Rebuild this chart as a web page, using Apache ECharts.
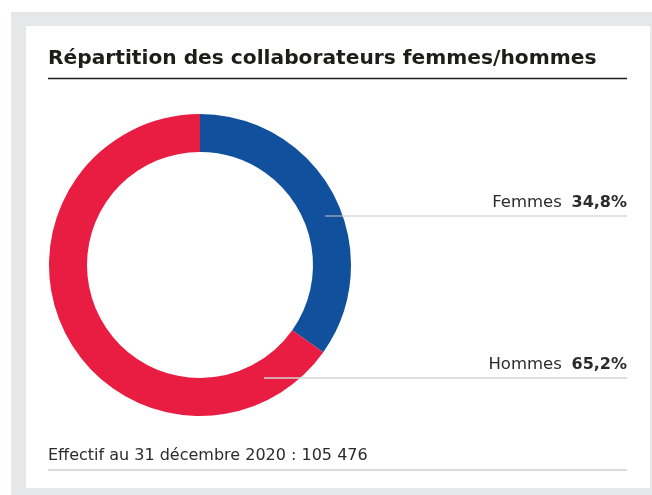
<!DOCTYPE html>
<html>
<head>
<meta charset="utf-8">
<script src="https://cdn.jsdelivr.net/npm/echarts@6/dist/echarts.min.js"></script>
<style>
  html, body { margin: 0; padding: 0; background: #ffffff; }
  #chart { width: 652px; height: 495px; }
</style>
</head>
<body>
<div id="chart"></div>
<script>
// ---- Data ----
var categories = ['Femmes', 'Hommes'];
var values = [34.8, 65.2];
var valueLabels = ['34,8%', '65,2%'];
var colors = ['#10509c', '#e81d41'];
var titleText = 'Répartition des collaborateurs femmes/hommes';
var footerText = 'Effectif au 31 décembre 2020 : 105 476';

// ---- Layout constants ----
var CX = 200, CY = 265, R_IN = 113, R_OUT = 151;
var LABEL_RIGHT = 627;
var leaderStartX = [325, 264];
var leaderY = [216, 378];

var FONT = '"DejaVu Sans", sans-serif';

var chart = echarts.init(document.getElementById('chart'), null, { renderer: 'canvas' });

var ringData = categories.map(function (c, i) {
  return { name: c, value: values[i], itemStyle: { color: colors[i] } };
});

var labelData = categories.map(function (c, i) {
  return {
    name: c,
    value: values[i],
    itemStyle: { color: 'rgba(0,0,0,0)' },
    labelLine: { lineStyle: { color: i === 0 ? '#c4c4c4' : '#d4d4d4', width: i === 0 ? 1 : 1.5 } }
  };
});

var option = {
  animation: false,
  backgroundColor: '#ffffff',
  graphic: [
    { type: 'rect', z: -10, shape: { x: 11, y: 12, width: 641, height: 483 }, style: { fill: '#e6e7e8' }, silent: true },
    { type: 'rect', z: -9, shape: { x: 26, y: 26, width: 624, height: 462 }, style: { fill: '#ffffff' }, silent: true },
    { type: 'line', z: 5, shape: { x1: 48, y1: 78.5, x2: 627, y2: 78.5 }, style: { stroke: '#1e1e1e', lineWidth: 1.3 }, silent: true },
    { type: 'line', z: 5, shape: { x1: 48, y1: 470, x2: 627, y2: 470 }, style: { stroke: '#cfcfcf', lineWidth: 1.5 }, silent: true }
  ],
  title: [
    {
      text: titleText,
      left: 48,
      top: 49,
      padding: 0,
      textStyle: { fontFamily: FONT, fontWeight: 'bold', fontSize: 20.2, color: '#1d1d1b' }
    },
    {
      text: footerText,
      left: 48,
      top: 448,
      padding: 0,
      textStyle: { fontFamily: FONT, fontWeight: 'normal', fontSize: 16, color: '#2b2b2b' }
    }
  ],
  series: [
    {
      type: 'pie',
      z: 2,
      center: [CX, CY],
      radius: [R_IN, R_OUT],
      startAngle: 90,
      clockwise: true,
      silent: true,
      label: { show: false },
      labelLine: { show: false },
      itemStyle: { borderWidth: 0 },
      data: ringData
    },
    {
      type: 'pie',
      z: 4,
      center: [CX, CY],
      radius: [R_IN, R_OUT],
      startAngle: 90,
      clockwise: true,
      avoidLabelOverlap: false,
      silent: true,
      itemStyle: { borderWidth: 0 },
      label: {
        show: true,
        position: 'outside',
        formatter: function (p) {
          return '{n|' + p.name + '}  {v|' + valueLabels[p.dataIndex] + '}';
        },
        rich: {
          n: { fontFamily: FONT, fontSize: 16.5, color: '#2b2b2b' },
          v: { fontFamily: FONT, fontSize: 16, fontWeight: 'bold', color: '#2b2b2b', padding: [0, 0, 0, 3] }
        }
      },
      labelLine: { show: true, length: 10, length2: 10 },
      labelLayout: function (params) {
        var i = params.dataIndex;
        var y = leaderY[i];
        return {
          x: LABEL_RIGHT,
          y: y - 13,
          align: 'right',
          verticalAlign: 'middle',
          labelLinePoints: [[leaderStartX[i], y], [leaderStartX[i] + 1, y], [LABEL_RIGHT, y]]
        };
      },
      data: labelData
    }
  ]
};

chart.setOption(option);
</script>
</body>
</html>
